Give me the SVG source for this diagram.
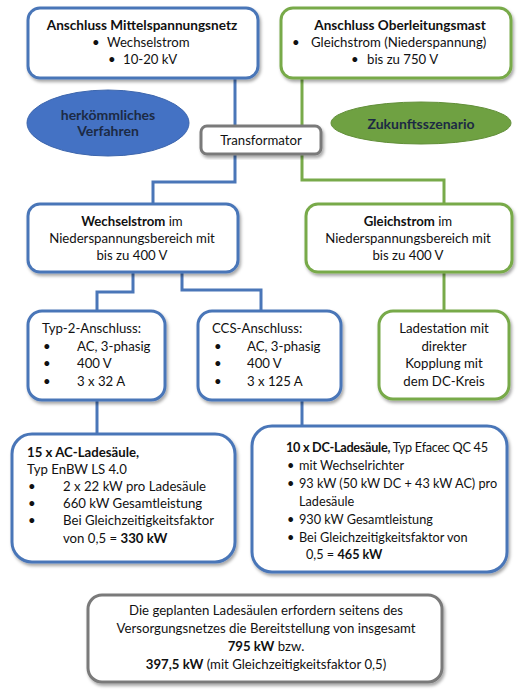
<svg xmlns="http://www.w3.org/2000/svg" width="519" height="695" viewBox="0 0 519 695">
<defs>
<filter id="sh" x="-10%" y="-10%" width="125%" height="130%">
<feDropShadow dx="1.5" dy="2.5" stdDeviation="1.8" flood-color="#000" flood-opacity="0.35"/>
</filter>
<style>
text{font-family:Lato,"Open Sans","Liberation Sans",sans-serif;font-size:13.2px;fill:#111}
.b{font-weight:bold}
.t{font-size:13.6px}
.s{font-size:12.7px}
.c{text-anchor:middle}
.bl{fill:#fff;stroke:#4a76b8;stroke-width:3}
.gr{fill:#fff;stroke:#78aa4a;stroke-width:3}
.gy{fill:#fff;stroke:#7a7a7a;stroke-width:3}
.lb{fill:none;stroke:#4a76b8;stroke-width:3}
.lg{fill:none;stroke:#78aa4a;stroke-width:3}
.et{font-weight:bold;fill:#1c2a44;font-size:14px}
</style>
</defs>
<rect width="519" height="695" fill="#fff"/>
<g id="connectors">
<path class="lb" d="M235 78V126"/>
<path class="lg" d="M302 78V126"/>
<path class="lb" d="M235 154V182H153V204"/>
<path class="lg" d="M302 154V180H444V204"/>
<path class="lb" d="M133 272V292H97V311"/>
<path class="lb" d="M182 272V290H261V311"/>
<path class="lg" d="M444 272V311"/>
<path class="lb" d="M97 400V434"/>
<path class="lb" d="M302 400V426"/>
</g>
<g id="n1" filter="url(#sh)">
<rect class="bl" x="28" y="8" width="230" height="70" rx="12"/>
</g>
<g id="n1t">
<text class="b c t" x="142" y="30">Anschluss Mittelspannungsnetz</text>
<text x="92" y="47">•</text><text x="107" y="47">Wechselstrom</text>
<text x="108" y="64">•</text><text x="123" y="64">10-20 kV</text>
</g>
<g id="n2" filter="url(#sh)">
<rect class="gr" x="281" y="8" width="230" height="70" rx="12"/>
</g>
<g id="n2t">
<text class="b c t" x="400" y="30">Anschluss Oberleitungsmast</text>
<text x="292" y="47">•</text><text x="311" y="47">Gleichstrom (Niederspannung)</text>
<text x="351" y="64">•</text><text x="367" y="64">bis zu 750 V</text>
</g>
<g id="e1">
<ellipse cx="108" cy="123" rx="81" ry="33" fill="#4472c4" stroke="#3d66ad" stroke-width="1"/>
<text class="et c" x="108" y="120">herkömmliches</text>
<text class="et c" x="108" y="136">Verfahren</text>
</g>
<g id="e2">
<ellipse cx="421" cy="123" rx="90" ry="21" fill="#6fa142" stroke="#628f39" stroke-width="1"/>
<text class="et c" x="421" y="129">Zukunftsszenario</text>
</g>
<g id="trafo" filter="url(#sh)">
<rect class="gy" x="201" y="126" width="120" height="28" rx="6"/>
</g>
<g id="trafot"><text class="c" x="261" y="145">Transformator</text></g>
<g id="ws" filter="url(#sh)">
<rect class="bl" x="28" y="204" width="210" height="68" rx="12"/>
</g>
<g id="wst">
<text class="c" x="132" y="226"><tspan class="b">Wechselstrom</tspan> im</text>
<text class="c" x="132" y="243">Niederspannungsbereich mit</text>
<text class="c" x="132" y="260">bis zu 400 V</text>
</g>
<g id="gs" filter="url(#sh)">
<rect class="gr" x="306" y="204" width="206" height="68" rx="12"/>
</g>
<g id="gst">
<text class="c" x="408" y="226"><tspan class="b">Gleichstrom</tspan> im</text>
<text class="c" x="408" y="243">Niederspannungsbereich mit</text>
<text class="c" x="408" y="260">bis zu 400 V</text>
</g>
<g id="typ2" filter="url(#sh)">
<rect class="bl" x="28" y="311" width="137" height="89" rx="14"/>
</g>
<g id="typ2t">
<text x="42" y="333">Typ-2-Anschluss:</text>
<text x="43" y="351">•</text><text x="77" y="351">AC, 3-phasig</text>
<text x="43" y="368">•</text><text x="77" y="368">400 V</text>
<text x="43" y="386">•</text><text x="77" y="386">3 x 32 A</text>
</g>
<g id="ccs" filter="url(#sh)">
<rect class="bl" x="198" y="311" width="143" height="89" rx="14"/>
</g>
<g id="ccst">
<text x="212" y="333">CCS-Anschluss:</text>
<text x="214" y="351">•</text><text x="247" y="351">AC, 3-phasig</text>
<text x="214" y="368">•</text><text x="247" y="368">400 V</text>
<text x="214" y="386">•</text><text x="247" y="386">3 x 125 A</text>
</g>
<g id="lade" filter="url(#sh)">
<rect class="gr" x="379" y="311" width="130" height="88" rx="14"/>
</g>
<g id="ladet">
<text class="c" x="444" y="333">Ladestation mit</text>
<text class="c" x="444" y="351">direkter</text>
<text class="c" x="444" y="368">Kopplung mit</text>
<text class="c" x="444" y="386">dem DC-Kreis</text>
</g>
<g id="ac" filter="url(#sh)">
<rect class="bl" x="12" y="434" width="223" height="128" rx="20"/>
</g>
<g id="act">
<text class="b" x="27" y="457">15 x AC-Ladesäule,</text>
<text x="27" y="474">Typ EnBW LS 4.0</text>
<text x="28" y="491">•</text><text x="63" y="491">2 x 22 kW pro Ladesäule</text>
<text x="28" y="508">•</text><text x="63" y="508">660 kW Gesamtleistung</text>
<text x="28" y="525">•</text><text x="63" y="525">Bei Gleichzeitigkeitsfaktor</text>
<text x="63" y="543">von 0,5 = <tspan class="b">330 kW</tspan></text>
</g>
<g id="dc" filter="url(#sh)">
<rect class="bl" x="252" y="426" width="255" height="146" rx="20"/>
</g>
<g id="dct">
<text class="s" x="286" y="452" textLength="202"><tspan class="b">10 x DC-Ladesäule,</tspan> Typ Efacec QC 45</text>
<text class="s" x="287" y="470">•</text><text class="s" x="299" y="470">mit Wechselrichter</text>
<text class="s" x="287" y="488">•</text><text class="s" x="299" y="488">93 kW (50 kW DC + 43 kW AC) pro</text>
<text class="s" x="299" y="506">Ladesäule</text>
<text class="s" x="287" y="524">•</text><text class="s" x="299" y="524">930 kW Gesamtleistung</text>
<text class="s" x="287" y="542">•</text><text class="s" x="299" y="542">Bei Gleichzeitigkeitsfaktor von</text>
<text class="s" x="306" y="559">0,5 = <tspan class="b">465 kW</tspan></text>
</g>
<g id="sum" filter="url(#sh)">
<rect class="gy" x="88" y="595" width="354" height="87" rx="14"/>
</g>
<g id="sumt">
<text class="c" x="266" y="615">Die geplanten Ladesäulen erfordern seitens des</text>
<text class="c" x="266" y="633">Versorgungsnetzes die Bereitstellung von insgesamt</text>
<text class="c" x="266" y="651"><tspan class="b">795 kW</tspan> bzw.</text>
<text class="c" x="266" y="669"><tspan class="b">397,5 kW</tspan> (mit Gleichzeitigkeitsfaktor 0,5)</text>
</g>
</svg>
